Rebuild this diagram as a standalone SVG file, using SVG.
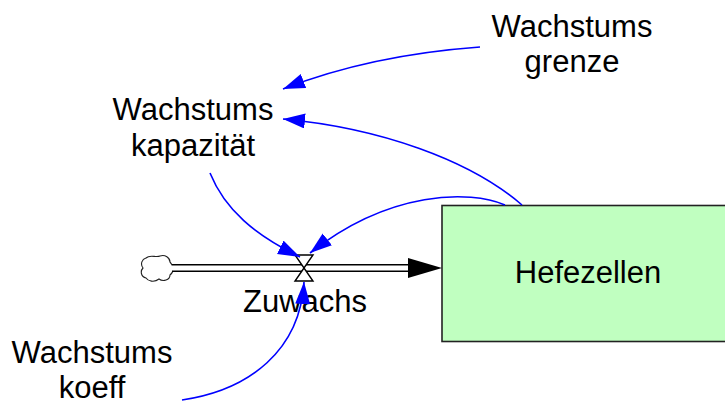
<svg xmlns="http://www.w3.org/2000/svg" width="725" height="404" viewBox="0 0 725 404">
<style>
text{font-family:"Liberation Sans",Arial,sans-serif;font-size:31px;fill:#000;text-anchor:middle}
.link{fill:none;stroke:#0000ff;stroke-width:1.6;marker-end:url(#ah)}
</style>
<defs>
<marker id="ah" markerUnits="userSpaceOnUse" markerWidth="24" markerHeight="16" refX="22" refY="7.5" orient="auto">
<path d="M0,0 L22,7.5 L0,15 z" fill="#0000ff"/>
</marker>
</defs>
<rect width="725" height="404" fill="#fff"/>
<g id="Hefezellen">
<rect x="442" y="205.5" width="300" height="136" fill="#c0ffc0" stroke="#222" stroke-width="1.6"/>
<text x="588" y="283">Hefezellen</text>
</g>
<g id="cloud">
<path d="M146,258 C150,254 156,258 160,256 C165,254 170,258 170,262 C174,266 174,272 170,275 C170,280 163,282 159,279 C154,283 148,281 146,278 C141,277 140,271 143,268 C140,264 142,259 146,258 z" fill="#fff" stroke="#222" stroke-width="1.1"/>
</g>
<g id="Zuwachs">
<path d="M172,268 L410,268" stroke="#000" stroke-width="8"/>
<path d="M172,268 L410,268" stroke="#fff" stroke-width="5"/>
<polygon points="408,258 442,268 408,278" fill="#000"/>
<polygon points="295,255 313,255 304,268" fill="#fff" stroke="#000" stroke-width="1.4"/>
<polygon points="304,268 295,281 313,281" fill="#fff" stroke="#000" stroke-width="1.4"/>
<text x="305" y="312">Zuwachs</text>
</g>
<g id="Wachstumsgrenze">
<text x="572" y="37">Wachstums</text>
<text x="572" y="72">grenze</text>
</g>
<g id="Wachstumskapazitaet">
<text x="193" y="120">Wachstums</text>
<text x="193" y="156">kapazität</text>
</g>
<g id="Wachstumskoeff">
<text x="92" y="363">Wachstums</text>
<text x="92" y="398">koeff</text>
</g>
<g id="connectors">
<path class="link" d="M480,47 Q370,55 283,89"/>
<path class="link" d="M522,205 C470,160 380,128 283,119"/>
<path class="link" d="M505,205 C470,190 390,190 310,253"/>
<path class="link" d="M210,173 C225,210 255,235 300,257"/>
<path class="link" d="M182,400 C250,390 300,350 304,282"/>
</g>
</svg>
